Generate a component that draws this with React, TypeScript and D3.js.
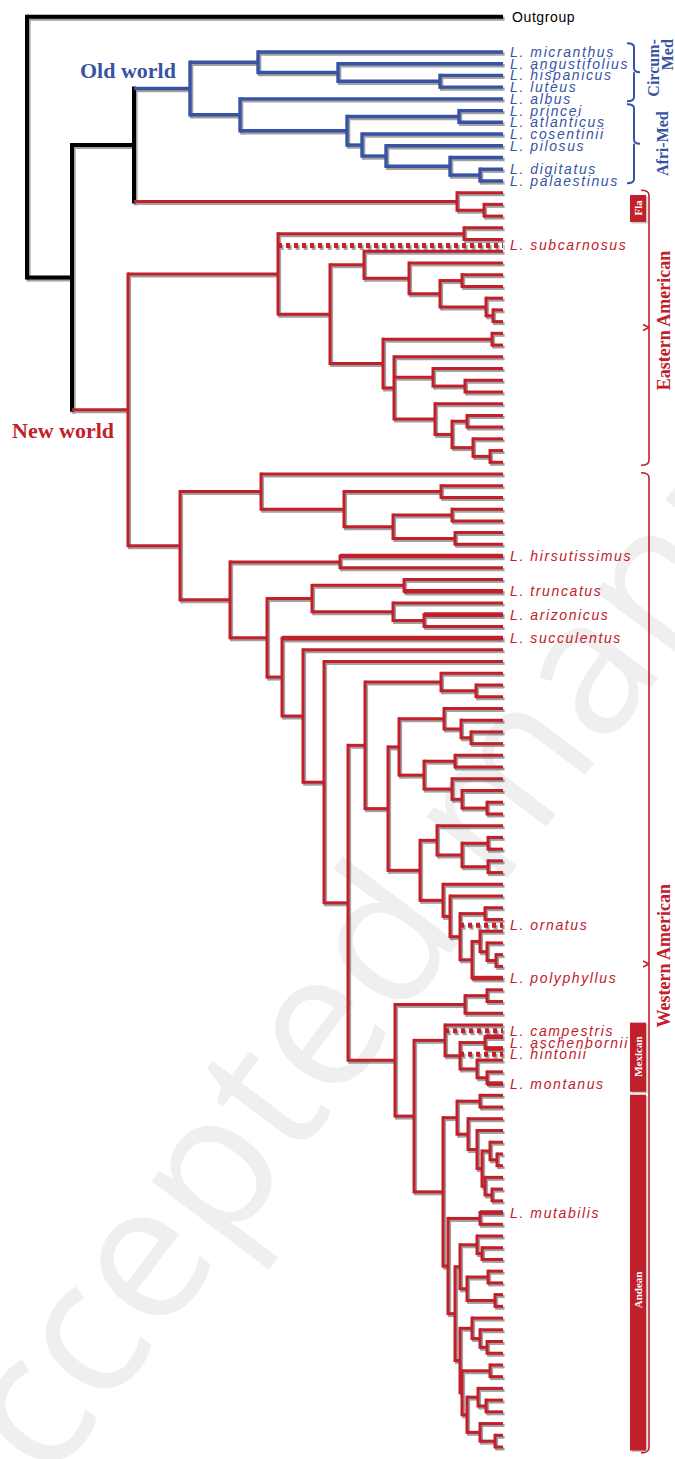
import React from 'react';
import * as d3 from 'd3';

// ---------- DATA ----------
// Tree topology in a Newick-like string. Number after ")" = node depth from root
// (tips at TIP_DEPTH). "|b" / "|r" = clade colour tag, "@name" = label of a clade.
// "_" = unlabelled tip, "*" prefix = tip drawn with a dotted branch.
const TIP_DEPTH = 476;
const OLD_WORLD =
  '((L. micranthus,(L. angustifolius,(L. hispanicus,L. luteus)413)311)231,' +
  '(L. albus,((L. princei,L. atlanticus)432,(L. cosentinii,(L. pilosus,(_,(L. digitatus,L. palaestinus)453)423)359)335)320)213)163|b';
const FLORIDA = '(_,(_,_)457)430|r';
const EASTERN =
  '((_,_)437,*L. subcarnosus,((_,(_,((_,_)435,(_,(_,_)466)459)413)382)337,' +
  '((_,_)465,(_,(_,(_,_)438)406,(_,((_,_)440,(_,(_,_)463)446)425)408)367)356)303)251';
const WEST_A = '(_,((_,_)414,((_,_)425,(_,_)428)366)317)234';
const WEST_B = '((_,L. truncatus)377,(_,(L. arizonicus,_)397)366)285';
const WEST_C =
  '(((_,(_,(_,_)444)434)417,((_,_)428,(_,(_,(_,_)460)435)425)397)372,' +
  '((_,((_,_)461,(_,_)461)435)410,(_,(_,((_,_)458,*L. ornatus,((_,(_,(_,_)469)460)453,L. polyphyllus)445)433)423)416)393)361';
const WEST_D = `((_,(_,_)449)414,${WEST_C})338`;
const MEX_AND =
  '((_,*L. campestris,((_,_)458@L. aschenbornii,*L. hintonii,(_,(_,L. montanus)460)450)433)418,' +
  '(((_,_)453,(_,(_,((_,(_,_)470)463,(_,(_,_)465)458)455)450)441)430,' +
  '((L. mutabilis,_)453,(((_,(_,_)455)450,((_,_)461,(_,_)468)440)433,' +
  '((_,(_,(_,_)460)453)445,((_,_)463,((_,(_,_)459)451,(_,(_,_)468)453)440)435)433)428)421)416)387';
const WEST_E = `(((_,_)460,_)438,${MEX_AND})368`;
const WESTERN =
  `(${WEST_A},((L. hirsutissimus,_)313,(${WEST_B},(L. succulentus,(_,(_,(${WEST_D},${WEST_E})321)297)276)255)240)203)153`;
const TREE = `(Outgroup,((${OLD_WORLD},${FLORIDA})107,(${EASTERN},${WESTERN})101|r)45)0`;

const OUTGROUP_GAP = 2; // empty leaf slots between outgroup and ingroup
const N_SLOTS = 122;

const COLORS: Record<string, string> = { k: '#000000', b: '#3853a4', r: '#c1202b' };

// clade labels
const CLADE_TEXTS = [
  { text: 'Old world', tag: 'b', slot: 5.2, x: 80 },
  { text: 'New world', tag: 'r', slot: 35.9, x: 12 },
];
// right-hand brackets, spans given in leaf slots
const BRACES = [
  { lines: ['Circum-', 'Med'], from: 2.25, to: 7.2, tag: 'b' },
  { lines: ['Afri-Med'], from: 7.45, to: 14.2, tag: 'b' },
];
const RANGES = [
  { text: 'Eastern American', from: 14.8, to: 38.25, notch: 26.5, textAt: 25.9 },
  { text: 'Western American', from: 38.9, to: 122.5, notch: 80.8, textAt: 80.1 },
];
const BOXES = [
  { text: 'Fla', from: 15.2, to: 17.5, mid: 16.3 },
  { text: 'Mexican', from: 85.8, to: 91.7, mid: 88.7 },
  { text: 'Andean', from: 91.95, to: 122.3, mid: 108.6 },
];

// ---------- PARSER ----------
type TNode = { name: string; depth: number; tag?: string; label?: string; color?: string; children?: TNode[] };
function parse(s: string): TNode {
  let i = 0;
  function node(): TNode {
    const n: TNode = { name: '', depth: TIP_DEPTH };
    if (s[i] === '(') {
      i++;
      n.children = [];
      for (;;) {
        n.children.push(node());
        if (s[i] === ',') { i++; continue; }
        if (s[i] === ')') { i++; break; }
      }
    }
    let tok = '';
    while (i < s.length && !',()'.includes(s[i])) tok += s[i++];
    tok = tok.trim();
    if (n.children) {
      const [rest, label] = tok.split('@');
      const [d, tag] = rest.split('|');
      n.depth = +d;
      n.tag = tag;
      n.label = label;
    } else n.name = tok;
    return n;
  }
  return node();
}

export default function App() {
  const W = 675, H = 1459;
  const root = d3.hierarchy<TNode>(parse(TREE));
  root.each((n: any) => {
    n.data.color = n.data.tag ? COLORS[n.data.tag] : n.parent ? n.parent.data.color : COLORS.k;
  });
  const x = d3.scaleLinear().domain([0, TIP_DEPTH]).range([27, 503]);
  const y = d3.scaleLinear().domain([0, N_SLOTS]).range([16.8, 1447]);

  let counter = 0;
  let first = true;
  root.leaves().forEach((l: any) => {
    if (l.data.name.startsWith('*')) l.slot = counter - 0.5;
    else {
      l.slot = counter;
      counter += 1;
      if (first) { counter += OUTGROUP_GAP; first = false; }
    }
  });
  root.eachAfter((n: any) => {
    if (n.children) {
      const a = n.children[0], b = n.children[n.children.length - 1];
      n.py = (a.py + b.py) / 2;
    } else n.py = y(n.slot);
    n.px = x(n.data.depth);
  });

  type Seg = { x1: number; y1: number; x2: number; y2: number; color: string; w: number; dotted?: boolean };
  const segs: Seg[] = [];
  const widthFor = (c: string) => (c === COLORS.k ? 4 : c === COLORS.b ? 3.4 : 3);
  root.each((n: any) => {
    if (!n.children) return;
    const a = n.children[0], b = n.children[n.children.length - 1];
    const w = widthFor(n.data.color);
    segs.push({ x1: n.px, y1: a.py - w / 2, x2: n.px, y2: b.py + w / 2, color: n.data.color, w });
    n.children.forEach((c: any) => {
      const dotted = !c.children && c.data.name.startsWith('*');
      const labelled = !c.children && c.data.color === COLORS.r && (c.data.name !== '_' || n.data.label);
      const cw = dotted ? 5 : labelled ? 4.6 : widthFor(c.data.color);
      segs.push({ x1: n.px, y1: c.py, x2: c.px, y2: c.py, color: c.data.color, w: cw, dotted });
    });
  });

  const labels: { name: string; y: number; color: string }[] = [];
  root.each((n: any) => {
    if (!n.children && n.data.name !== '_') labels.push({ name: n.data.name.replace('*', ''), y: n.py, color: n.data.color });
    if (n.children && n.data.label) labels.push({ name: n.data.label, y: n.py, color: n.data.color });
  });

  const serif = "'Liberation Serif', 'Times New Roman', serif";
  const sans = "'Liberation Sans', Arial, sans-serif";

  return (
    <svg width={W} height={H} style={{ position: 'absolute', left: 0, top: 0, background: '#fff' }}>
      <rect width={W} height={H} fill="#fff" />
      <text
        transform="translate(-23,1582) rotate(-53)"
        fontFamily="'Open Sans', sans-serif"
        fontSize={190}
        fill="#efefef"
      >
        Accepted manuscript
      </text>
      <g transform="translate(1.6,2)" opacity={0.55}>
        {segs.map((s, i) => (
          <line key={i} x1={s.x1} y1={s.y1} x2={s.x2} y2={s.y2} stroke="#555"
            strokeWidth={s.w} strokeDasharray={s.dotted ? '4 4' : undefined} />
        ))}
      </g>
      <g>
        {segs.map((s, i) => (
          <line key={i} x1={s.x1} y1={s.y1} x2={s.x2} y2={s.y2} stroke={s.color}
            strokeWidth={s.w} strokeDasharray={s.dotted ? '4 4' : undefined} />
        ))}
      </g>
      <g fontFamily={sans} fontSize={14}>
        {labels.map((l, i) => {
          const out = l.name === 'Outgroup';
          return (
            <text key={i} x={out ? 512 : 510} y={l.y + 5} fill={l.color}
              fontStyle={out ? 'normal' : 'italic'} letterSpacing={out ? 0.6 : 1.6}>
              {l.name}
            </text>
          );
        })}
      </g>
      {CLADE_TEXTS.map((c, i) => (
        <text key={i} x={c.x} y={y(c.slot)} fontFamily={serif} fontWeight="bold" fontSize={22}
          fill={COLORS[c.tag]}>{c.text}</text>
      ))}
      {BRACES.map((b, i) => {
        const t = y(b.from), bt = y(b.to), m = (t + bt) / 2;
        const x0 = 627, x1 = 634;
        const d = `M${x0},${t} Q${x1},${t} ${x1},${t + 4} V${m - 4} Q${x1},${m} ${x1 + 6},${m} M${x1},${m} Q${x1},${m} ${x1},${m + 4} V${bt - 4} Q${x1},${bt} ${x0},${bt}`;
        return (
          <g key={i}>
            <path d={d} fill="none" stroke={COLORS[b.tag]} strokeWidth={2} />
            {b.lines.map((ln, j) => {
              const bx = b.lines.length > 1 ? 659 + j * 14 : 668;
              const by = b.lines.length > 1 ? t - 4 : m;
              return (
                <text key={j} transform={`translate(${bx},${by}) rotate(-90)`}
                  textAnchor={b.lines.length > 1 ? 'end' : 'middle'} fontFamily={serif} fontWeight="bold"
                  fontSize={16} fill={COLORS[b.tag]}>{ln}</text>
              );
            })}
          </g>
        );
      })}
      {RANGES.map((r, i) => {
        const t = y(r.from), bt = y(r.to), m = y(r.notch);
        return (
          <g key={i}>
            <path d={`M641,${t} Q649,${t} 649,${t + 5} V${bt - 5} Q649,${bt} 641,${bt} M649,${m} L643,${m - 3} M649,${m} L643,${m + 3}`}
              fill="none" stroke={COLORS.r} strokeWidth={1.6} />
            <text transform={`translate(670,${y(r.textAt)}) rotate(-90)`} textAnchor="middle" fontFamily={serif}
              fontWeight="bold" fontSize={18} fill={COLORS.r}>{r.text}</text>
          </g>
        );
      })}
      {BOXES.map((b, i) => {
        const t = y(b.from), bt = y(b.to);
        return (
          <g key={i}>
            <rect x={631.5} y={t + 1.5} width={16} height={bt - t} fill="#888" opacity={0.5} />
            <rect x={630} y={t} width={16} height={bt - t} fill={COLORS.r} />
            <text transform={`translate(642,${y(b.mid)}) rotate(-90)`} textAnchor="middle" fontFamily={serif}
              fontWeight="bold" fontSize={11} fill="#fff">{b.text}</text>
          </g>
        );
      })}
    </svg>
  );
}
